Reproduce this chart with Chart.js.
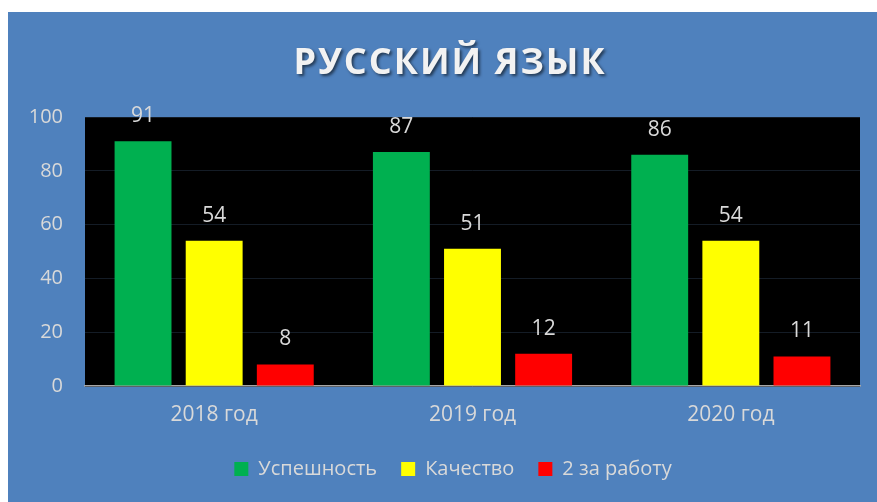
<!DOCTYPE html>
<html lang="ru">
<head>
    <meta charset="UTF-8">
    <title>Русский язык</title>
    <script src="https://cdn.jsdelivr.net/npm/chart.js"></script>
    <style>
        html, body { margin:0; padding:0; background:#fff; }
        .box { position:absolute; left:8px; top:12px; width:869px; height:490px; background:#4f81bd; }
    </style>
</head>
<body>
<div class="box">
    <canvas id="myChart" width="869" height="490"></canvas>
</div>
<script>
    const years = ['2018 год', '2019 год', '2020 год'];
    const uspeh = [91, 87, 86];
    const kachestvo = [54, 51, 54];
    const dvoiki = [8, 12, 11];
    const yTicks = [0, 20, 40, 60, 80, 100];

    const fontName = '"Open Sans", sans-serif';
    const textColor = '#d9d9d9';

    // black plot area + title + value labels
    const extras = {
        id: 'extras',
        afterLayout(chart) {
            // legend sits a bit right of centre in the original
            chart.legend.left += 19;
            chart.legend.right += 19;
        },
        beforeDraw(chart) {
            const c = chart.ctx, a = chart.chartArea;
            c.save();
            c.fillStyle = '#000';
            c.fillRect(a.left, a.top, a.right - a.left, a.bottom - a.top);
            c.restore();
        },
        afterDatasetsDraw(chart) {
            const c = chart.ctx;
            c.save();
            c.font = '21px ' + fontName;
            c.fillStyle = textColor;
            c.textAlign = 'center';
            c.textBaseline = 'middle';
            chart.data.datasets.forEach((ds, i) => {
                chart.getDatasetMeta(i).data.forEach((bar, j) => {
                    c.fillText(ds.data[j], bar.x, bar.y - 25);
                });
            });
            c.restore();
        },
        afterDraw(chart) {
            const c = chart.ctx;
            c.save();
            c.font = 'bold 36px ' + fontName;
            c.letterSpacing = '2px';
            c.fillStyle = '#f2f2f2';
            c.textAlign = 'center';
            c.textBaseline = 'middle';
            c.shadowColor = 'rgba(0,0,0,0.55)';
            c.shadowOffsetX = 2;
            c.shadowOffsetY = 2;
            c.shadowBlur = 3;
            c.fillText('РУССКИЙ ЯЗЫК', 442, 52);
            c.restore();
        }
    };

    new Chart(document.getElementById('myChart'), {
        type: 'bar',
        data: {
            labels: years,
            datasets: [
                { label: 'Успешность', data: uspeh, backgroundColor: '#00b050' },
                { label: 'Качество', data: kachestvo, backgroundColor: '#ffff00' },
                { label: '2 за работу', data: dvoiki, backgroundColor: '#ff0000' }
            ]
        },
        options: {
            responsive: false,
            animation: false,
            layout: { padding: { left: 0, right: 17, top: 105, bottom: 13 } },
            datasets: { bar: { categoryPercentage: 0.826, barPercentage: 0.8 } },
            scales: {
                x: {
                    grid: { display: false, drawTicks: false },
                    border: { color: '#a6a6a6', width: 1.5 },
                    ticks: { color: textColor, font: { family: fontName, size: 21 }, padding: 16 },
                    afterFit(s) { s.height = 49; }
                },
                y: {
                    min: 0, max: 100,
                    afterBuildTicks(s) { s.ticks = yTicks.map(v => ({ value: v })); },
                    grid: { color: '#141c26', drawTicks: false },
                    border: { display: false },
                    ticks: { color: textColor, font: { family: fontName, size: 20 }, padding: 22 },
                    afterFit(s) { s.width = 77; }
                }
            },
            plugins: {
                legend: {
                    position: 'bottom',
                    labels: {
                        color: textColor,
                        font: { family: fontName, size: 20 },
                        boxWidth: 14, boxHeight: 14,
                        padding: 24
                    }
                },
                tooltip: { enabled: false }
            }
        },
        plugins: [extras]
    });
</script>
</body>
</html>
